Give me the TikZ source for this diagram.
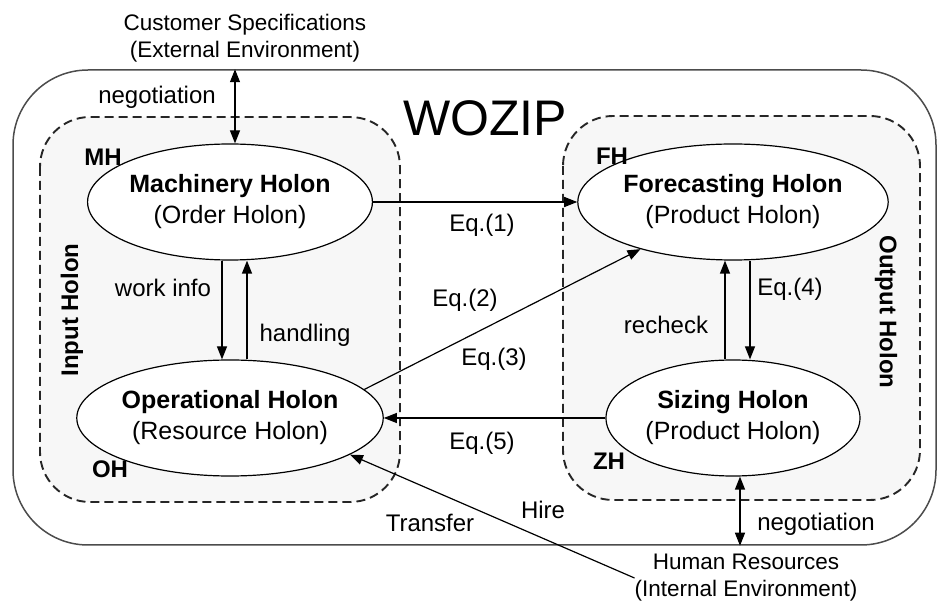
\documentclass[tikz,border=0pt]{standalone}
\usepackage{fontspec}
\setmainfont{Liberation Sans}
\usetikzlibrary{shapes.geometric,arrows.meta}

\begin{document}
\begin{tikzpicture}[x=1pt,y=-1pt,
    txt/.style={inner sep=0pt, font=\fontsize{24}{30}\selectfont},
    tag/.style={inner sep=0pt, font=\fontsize{24}{30}\selectfont\bfseries},
    holon/.style={draw, ellipse, fill=white, line width=1.2pt, minimum width=254pt, minimum height=116pt, inner sep=0pt, align=center, font=\fontsize{25}{31}\selectfont},
    group/.style={draw=black!85, dash pattern=on 9pt off 5pt, line width=1.9pt, rounded corners=50pt, fill=black!3},
    link/.style={line width=1.2pt, -{Triangle[length=13pt,width=10pt]}},
    twoway/.style={line width=1.2pt, {Triangle[length=13pt,width=10pt]}-{Triangle[length=13pt,width=10pt]}}]
    \useasboundingbox (0,0) rectangle (938,601);

    % Enterprise boundary
    \node[draw=black!70, line width=1.5pt, rounded corners=75pt, minimum width=923pt, minimum height=475pt] (outer) at (474.5,307.5) {};
    \node[inner sep=0pt, font=\fontsize{50}{60}\selectfont] (wozip) at (485,118) {WOZIP};

    % Input and output groups
    \draw[group] (40,117) rectangle (400,502);
    \draw[group] (563,116) rectangle (920,500);
    \node[tag, rotate=90] (input) at (72,310) {Input Holon};
    \node[tag, rotate=-90] (output) at (886,312) {Output Holon};

    % Holons
    \node[holon] (mh) at (230,202) {\textbf{Machinery Holon}\\(Order Holon)};
    \node[holon] (fh) at (733,202) {\textbf{Forecasting Holon}\\(Product Holon)};
    \node[holon] (oh) at (230,418) {\textbf{Operational Holon}\\(Resource Holon)};
    \node[holon] (zh) at (733,418) {\textbf{Sizing Holon}\\(Product Holon)};
    \node[tag] (mhtag) at (103,157) {MH};
    \node[tag] (fhtag) at (612,156) {FH};
    \node[tag] (ohtag) at (110,469) {OH};
    \node[tag] (zhtag) at (609,461) {ZH};

    % Environments
    \node[txt, align=center, font=\fontsize{22.5}{27}\selectfont] (cust) at (245,38) {Customer Specifications\\(External Environment)};
    \node[txt, align=center, font=\fontsize{22.5}{27}\selectfont] (hr) at (746,578) {Human Resources\\(Internal Environment)};

    % Flows
    \draw[link] (mh) -- (fh);
    \draw[link] ([xshift=-8pt]mh.south) -- ([xshift=-8pt]oh.north);
    \draw[link] ([xshift=17pt]oh.north) -- ([xshift=17pt]mh.south);
    \draw[link] ([xshift=-8pt]zh.north) -- ([xshift=-8pt]fh.south);
    \draw[link] ([xshift=17pt]fh.south) -- ([xshift=17pt]zh.north);
    \draw[link] (oh.12) -- (fh.207);
    \draw[link] (zh) -- (oh);
    \draw[link] (hr.west) -- (oh.-17);
    \coordinate (mhtop) at ([xshift=5pt]mh.north);
    \coordinate (zhbot) at ([xshift=7pt]zh.south);
    \draw[twoway] (mhtop) -- (mhtop |- outer.north);
    \draw[twoway] (zhbot) -- (zhbot |- outer.south);

    % Flow labels
    \node[txt] (neg1) at (157,97) {negotiation};
    \node[txt] (neg2) at (816,524) {negotiation};
    \node[txt] (eq1) at (482,225) {Eq.(1)};
    \node[txt] (eq2) at (465,300) {Eq.(2)};
    \node[txt] (eq3) at (494,359) {Eq.(3)};
    \node[txt] (eq4) at (790,289) {Eq.(4)};
    \node[txt] (eq5) at (482,443) {Eq.(5)};
    \node[txt] (work) at (163,288) {work info};
    \node[txt] (hand) at (305,335) {handling};
    \node[txt] (recheck) at (666,325) {recheck};
    \node[txt] (transfer) at (430,523) {Transfer};
    \node[txt] (hire) at (543,510) {Hire};
\end{tikzpicture}
\end{document}
